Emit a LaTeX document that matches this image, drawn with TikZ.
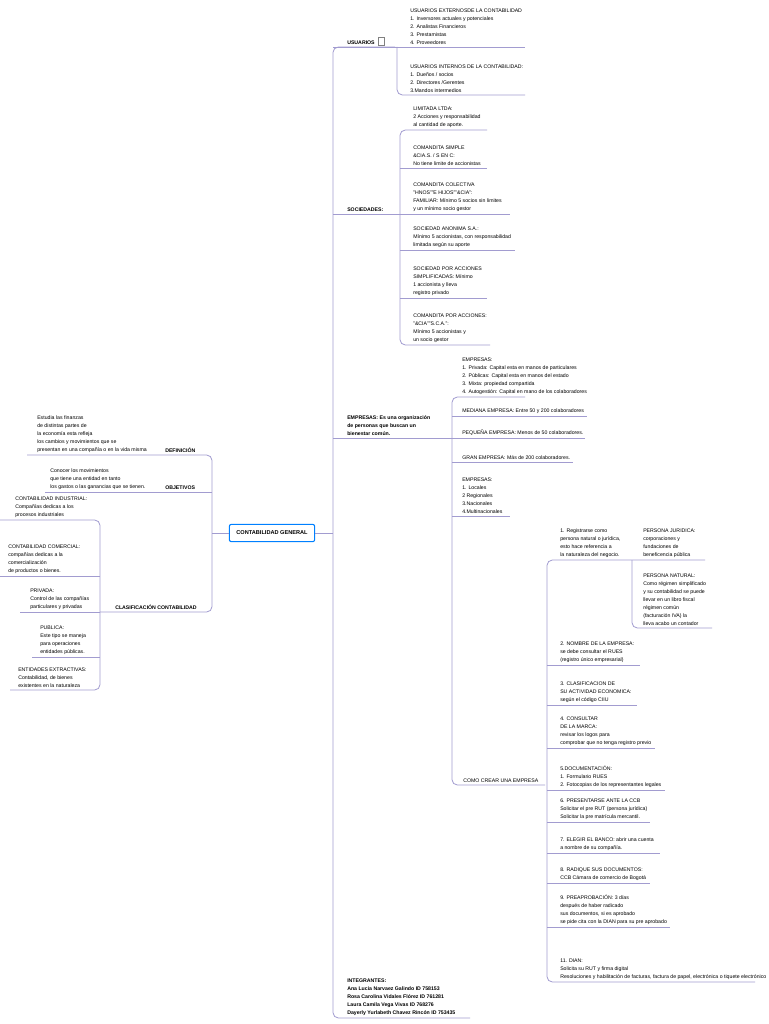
\documentclass[tikz,border=0pt]{standalone}
\usepackage{fontspec}
\setmainfont{Liberation Sans}
\begin{document}
\begin{tikzpicture}[x=0.75pt,y=-0.75pt,
  ln/.style={draw=lav, line width=0.6pt},
  rc/.style={ln, rounded corners=4pt},
  tx/.style={anchor=south west, inner sep=0pt, align=left, font=\fontsize{3.9}{6}\selectfont},
  bt/.style={tx, font=\fontsize{3.9}{6}\selectfont\bfseries}]
\definecolor{lav}{HTML}{A29CD0}
\useasboundingbox (0,0) rectangle (768,1024);
\fill[white] (0,0) rectangle (768,1024);
% central
\node[draw=blue!50!cyan, line width=0.8pt, rounded corners=1.5pt, minimum width=64pt, minimum height=13pt, inner sep=2pt, font=\fontsize{4.2}{6}\selectfont\bfseries] (c) at (272,533) {CONTABILIDAD GENERAL};
% right main spine
\draw[rc] (395,47) -- (333,47) -- (333,1018) -- (470,1018);
\draw[ln] (c.east) -- (333,533);
\draw[ln] (333,47) -- (525,47);
\draw[rc] (397,47) -- (397,95) -- (525,95);
\draw[ln] (333,214) -- (400,214);
\draw[rc] (487,130) -- (400,130) -- (400,345) -- (490,345);
\draw[ln] (400,168) -- (487,168);
\draw[ln] (400,214) -- (510,214);
\draw[ln] (400,250) -- (515,250);
\draw[ln] (400,298) -- (487,298);
\draw[ln] (333,438) -- (452,438);
\draw[rc] (525,397) -- (452,397) -- (452,785) -- (545,785);
\draw[ln] (452,416) -- (587,416);
\draw[ln] (452,438) -- (585,438);
\draw[ln] (452,462) -- (573,462);
\draw[ln] (452,516) -- (510,516);
\draw[rc] (705,560) -- (547,560) -- (547,982) -- (755,982);
\draw[rc] (632,560) -- (632,628) -- (712,628);
\draw[ln] (547,665) -- (640,665);
\draw[ln] (547,705) -- (637,705);
\draw[ln] (547,748) -- (655,748);
\draw[ln] (547,790) -- (665,790);
\draw[ln] (547,822) -- (650,822);
\draw[ln] (547,853) -- (660,853);
\draw[ln] (547,883) -- (650,883);
\draw[ln] (547,927) -- (670,927);
% left
\draw[rc] (27,455) -- (212,455) -- (212,612) -- (100,612);
\draw[ln] (c.west) -- (212,533);
\draw[ln] (45,492) -- (212,492);
\draw[rc] (0,520) -- (100,520) -- (100,690) -- (10,690);
\draw[ln] (0,576) -- (100,576);
\draw[ln] (20,612) -- (100,612);
\draw[ln] (32,657) -- (100,657);
% texts right
\node[bt] (usu) at (347,45) {USUARIOS};
\draw[gray, line width=0.4pt] (378,37) rectangle (384,45);
\node[tx] (ue) at (410,45) {USUARIOS EXTERNOSDE LA CONTABILIDAD\\1. Inversores actuales y potenciales\\2. Analistas Financieros\\3. Prestamistas\\4. Proveedores};
\node[tx] (ui) at (410,93) {USUARIOS INTERNOS DE LA CONTABILIDAD:\\1. Dueños / socios\\2. Directores /Gerentes\\3.Mandos intermedios};
\node[bt] (soc) at (347,212) {SOCIEDADES:};
\node[tx] (s1) at (413,128) {LIMITADA LTDA:\\2 Acciones y responsabilidad\\al cantidad de aporte.};
\node[tx] (s2) at (413,166) {COMANDITA SIMPLE\\\&CIA.S. / S EN C:\\No tiene limite de accionistas};
\node[tx] (s3) at (413,212) {COMANDITA COLECTIVA\\"HNOS""E HIJOS""\&CIA":\\FAMILIAR: Mínimo 5 socios sin limites\\y un mínimo socio gestor};
\node[tx] (s4) at (413,248) {SOCIEDAD ANONIMA  S.A.:\\Mínimo 5 accionistas, con responsabilidad\\limitada según su aporte};
\node[tx] (s5) at (413,296) {SOCIEDAD POR ACCIONES\\SIMPLIFICADAS: Mínimo\\1 accionista  y lleva\\registro privado};
\node[tx] (s6) at (413,343) {COMANDITA POR ACCIONES:\\ "\&CIA""S.C.A.":\\Mínimo 5 accionistas  y\\ un socio gestor};
\node[bt] (emp) at (347,436) {EMPRESAS: Es una organización\\de personas que buscan un\\ bienestar común.};
\node[tx] (e1) at (462,395) {EMPRESAS:\\1. Privada: Capital esta en manos de particulares\\2. Públicas: Capital esta en manos del estado\\3. Mixta: propiedad compartida\\4. Autogestión: Capital en mano de los colaboradores};
\node[tx] (e2) at (462,414) {MEDIANA EMPRESA: Entre 50 y 200 colaboradores};
\node[tx] (e3) at (462,436) {PEQUEÑA EMPRESA: Menos de 50 colaboradores.};
\node[tx] (e4) at (462,460) {GRAN EMPRESA: Más de 200 colaboradores.};
\node[tx] (e5) at (462,514) {EMPRESAS:\\1. Locales\\2 Regionales\\3.Nacionales\\4.Multinacionales};
\node[tx] (cc) at (463,783) {COMO CREAR UNA EMPRESA};
\node[tx] (p1) at (560,558) {1. Registrarse como\\persona natural o jurídica,\\esto hace referencia a\\la naturaleza del negocio.};
\node[tx] (pj) at (643,558) {PERSONA JURIDICA:\\corporaciones y\\fundaciones de\\ beneficencia pública};
\node[tx] (pn) at (643,626) {PERSONA NATURAL:\\Como régimen simplificado\\y su contabilidad se puede\\llevar en un libro fiscal\\régimen común\\(facturación IVA) la\\lleva acabo un contador};
\node[tx] (p2) at (560,663) {2. NOMBRE DE LA EMPRESA:\\se debe consultar el RUES\\(registro único empresarial)};
\node[tx] (p3) at (560,703) {3. CLASIFICACION DE\\SU ACTIVIDAD ECONOMICA:\\según el código CIIU};
\node[tx] (p4) at (560,746) {4. CONSULTAR\\DE LA MARCA:\\revisar los logos para\\comprobar que no tenga registro previo};
\node[tx] (p5) at (560,788) {5.DOCUMENTACIÓN:\\1. Formulario RUES\\2. Fotocopias de los representantes legales};
\node[tx] (p6) at (560,820) {6. PRESENTARSE ANTE LA CCB\\Solicitar el pre RUT (persona jurídica)\\Solicitar la pre matrícula mercantil.};
\node[tx] (p7) at (560,851) {7. ELEGIR EL BANCO: abrir una cuenta\\a nombre de su compañía.};
\node[tx] (p8) at (560,881) {8. RADIQUE SUS DOCUMENTOS:\\CCB Cámara de comercio de Bogotá};
\node[tx] (p9) at (560,925) {9. PREAPROBACIÓN:  3 días\\después de haber radicado\\sus documentos, si es aprobado\\se pide cita con la DIAN para su pre aprobado};
\node[tx] (p11) at (560,980) {11. DIAN:\\Solicita su RUT y firma digital\\Resoluciones y habilitación de facturas, factura de papel, electrónica o tiquete electrónico};
\node[bt] (int) at (347,1016) {INTEGRANTES:\\Ana Lucia Narvaez Galindo ID 758153\\Rosa Carolina Vidales Flórez ID 761281\\Laura Camila Vega Vivas ID 768276\\Dayerly Yurlabeth Chavez Rincón ID 753435};
% texts left
\node[tx] (d) at (37,453) {Estudia las finanzas\\de distintas partes de\\la economía esta refleja\\los cambios y movimientos que se\\presentan en una compañía o en la vida misma};
\node[bt] (dl) at (165,453) {DEFINICIÓN};
\node[tx] (o) at (50,490) {Conocer los movimientos\\que tiene una entidad en tanto\\los gastos o las ganancias que se tienen.};
\node[bt] (ol) at (165,490) {OBJETIVOS};
\node[tx] (k1) at (15,518) {CONTABILIDAD INDUSTRIAL:\\Compañías dedicas a los\\procesos industriales};
\node[tx] (k2) at (8,574) {CONTABILIDAD COMERCIAL:\\compañías dedicas a la\\ comercialización\\de productos o bienes.};
\node[tx] (k3) at (30,610) {PRIVADA:\\Control de las compañías\\particulares y privadas};
\node[bt] (kl) at (115,610) {CLASIFICACIÓN CONTABILIDAD};
\node[tx] (k4) at (40,655) {PUBLICA:\\Este tipo se maneja\\para operaciones\\entidades públicas.};
\node[tx] (k5) at (18,688) {ENTIDADES EXTRACTIVAS:\\Contabilidad, de bienes\\existentes en la naturaleza};
\end{tikzpicture}
\end{document}
